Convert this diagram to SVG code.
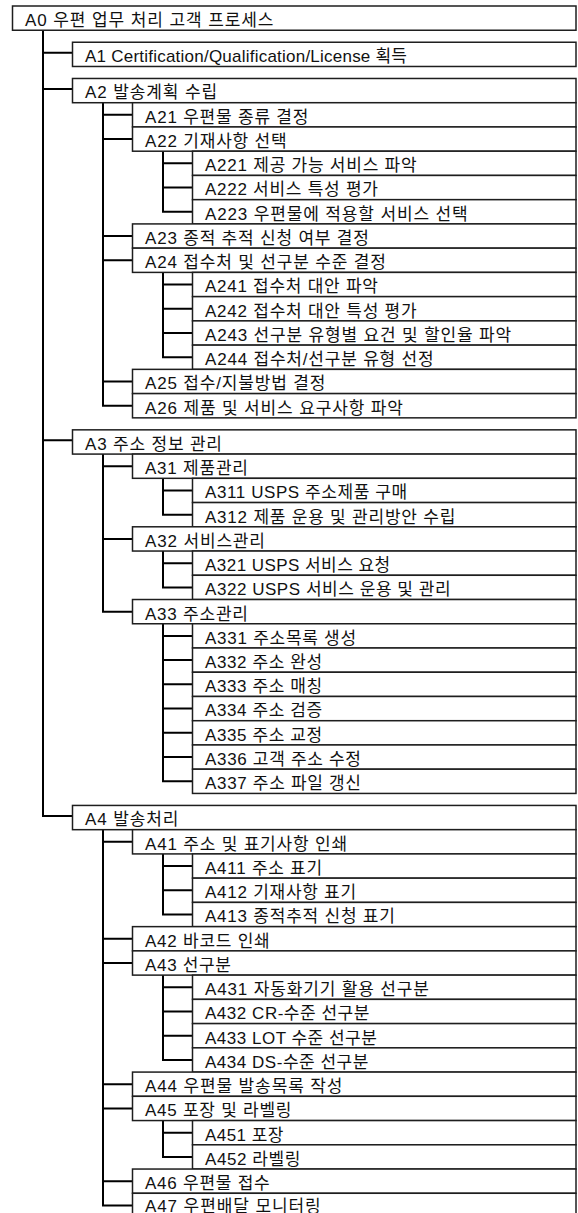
<svg xmlns="http://www.w3.org/2000/svg" width="578" height="1213" viewBox="0 0 578 1213">
<style>
.box{fill:#fff;stroke:#1e1e1e;stroke-width:1.5}
.lbl{font-family:"Liberation Sans","Noto Sans CJK KR",sans-serif;font-size:17px;fill:#111}
.conn{fill:none;stroke:#000;stroke-width:2}
</style>
<rect width="578" height="1213" fill="#fff"/>
<g id="connectors" class="conn">
<path d="M43 30.24V815.94H72.5M43 52.74H72.5M43 88.98H72.5M43 440.34H72.5"/>
<path d="M103 102.72V405.72H132.5M103 114.84H132.5M103 139.08H132.5M103 236.04H132.5M103 260.28H132.5M103 381.48H132.5"/>
<path d="M163 151.2V211.8H192.5M163 163.32H192.5M163 187.56H192.5"/>
<path d="M163 272.4V357.24H192.5M163 284.52H192.5M163 308.76H192.5M163 333H192.5"/>
<path d="M103 454.08V611.64H132.5M103 466.2H132.5M103 538.92H132.5"/>
<path d="M163 478.32V514.68H192.5M163 490.44H192.5"/>
<path d="M163 551.04V587.4H192.5M163 563.16H192.5"/>
<path d="M163 623.76V781.32H192.5M163 635.88H192.5M163 660.12H192.5M163 684.36H192.5M163 708.6H192.5M163 732.84H192.5M163 757.08H192.5"/>
<path d="M103 829.68V1205.4H132.5M103 841.8H132.5M103 938.76H132.5M103 963H132.5M103 1084.2H132.5M103 1108.44H132.5M103 1181.16H132.5"/>
<path d="M163 853.92V914.52H192.5M163 866.04H192.5M163 890.28H192.5"/>
<path d="M163 975.12V1059.96H192.5M163 987.24H192.5M163 1011.48H192.5M163 1035.72H192.5"/>
<path d="M163 1120.56V1156.92H192.5M163 1132.68H192.5"/>
</g>
<g id="A0"><rect class="box" x="12.5" y="6" width="563.5" height="24.24"/><text class="lbl" x="25" y="26" textLength="248.4">A0 우편 업무 처리 고객 프로세스</text></g>
<g id="A1"><rect class="box" x="72.5" y="42.24" width="503.5" height="24.24"/><text class="lbl" x="85" y="62.24" textLength="322">A1 Certification/Qualification/License 획득</text></g>
<g id="A2"><rect class="box" x="72.5" y="78.48" width="503.5" height="24.24"/><text class="lbl" x="85" y="98.48" textLength="132.2">A2 발송계획 수립</text></g>
<g id="A21"><rect class="box" x="132.5" y="102.72" width="443.5" height="24.24"/><text class="lbl" x="145" y="122.72" textLength="163.4">A21 우편물 종류 결정</text></g>
<g id="A22"><rect class="box" x="132.5" y="126.96" width="443.5" height="24.24"/><text class="lbl" x="145" y="146.96" textLength="141.7">A22 기재사항 선택</text></g>
<g id="A221"><rect class="box" x="192.5" y="151.2" width="383.5" height="24.24"/><text class="lbl" x="205" y="171.2" textLength="211.6">A221 제공 가능 서비스 파악</text></g>
<g id="A222"><rect class="box" x="192.5" y="175.44" width="383.5" height="24.24"/><text class="lbl" x="205" y="195.44" textLength="172.9">A222 서비스 특성 평가</text></g>
<g id="A223"><rect class="box" x="192.5" y="199.68" width="383.5" height="24.24"/><text class="lbl" x="205" y="219.68" textLength="262.6">A223 우편물에 적용할 서비스 선택</text></g>
<g id="A23"><rect class="box" x="132.5" y="223.92" width="443.5" height="24.24"/><text class="lbl" x="145" y="243.92" textLength="223.9">A23 종적 추적 신청 여부 결정</text></g>
<g id="A24"><rect class="box" x="132.5" y="248.16" width="443.5" height="24.24"/><text class="lbl" x="145" y="268.16" textLength="240.9">A24 접수처 및 선구분 수준 결정</text></g>
<g id="A241"><rect class="box" x="192.5" y="272.4" width="383.5" height="24.24"/><text class="lbl" x="205" y="292.4" textLength="172.9">A241 접수처 대안 파악</text></g>
<g id="A242"><rect class="box" x="192.5" y="296.64" width="383.5" height="24.24"/><text class="lbl" x="205" y="316.64" textLength="211.6">A242 접수처 대안 특성 평가</text></g>
<g id="A243"><rect class="box" x="192.5" y="320.88" width="383.5" height="24.24"/><text class="lbl" x="205" y="340.88" textLength="306.1">A243 선구분 유형별 요건 및 할인율 파악</text></g>
<g id="A244"><rect class="box" x="192.5" y="345.12" width="383.5" height="24.24"/><text class="lbl" x="205" y="365.12" textLength="228.6">A244 접수처/선구분 유형 선정</text></g>
<g id="A25"><rect class="box" x="132.5" y="369.36" width="443.5" height="24.24"/><text class="lbl" x="145" y="389.36" textLength="180.4">A25 접수/지불방법 결정</text></g>
<g id="A26"><rect class="box" x="132.5" y="393.6" width="443.5" height="24.24"/><text class="lbl" x="145" y="413.6" textLength="257.9">A26 제품 및 서비스 요구사항 파악</text></g>
<g id="A3"><rect class="box" x="72.5" y="429.84" width="503.5" height="24.24"/><text class="lbl" x="85" y="449.84" textLength="137">A3 주소 정보 관리</text></g>
<g id="A31"><rect class="box" x="132.5" y="454.08" width="443.5" height="24.24"/><text class="lbl" x="145" y="474.08" textLength="103">A31 제품관리</text></g>
<g id="A311"><rect class="box" x="192.5" y="478.32" width="383.5" height="24.24"/><text class="lbl" x="205" y="498.32" textLength="202.2">A311 USPS 주소제품 구매</text></g>
<g id="A312"><rect class="box" x="192.5" y="502.56" width="383.5" height="24.24"/><text class="lbl" x="205" y="522.56" textLength="250.3">A312 제품 운용 및 관리방안 수립</text></g>
<g id="A32"><rect class="box" x="132.5" y="526.8" width="443.5" height="24.24"/><text class="lbl" x="145" y="546.8" textLength="120">A32 서비스관리</text></g>
<g id="A321"><rect class="box" x="192.5" y="551.04" width="383.5" height="24.24"/><text class="lbl" x="205" y="571.04" textLength="185.2">A321 USPS 서비스 요청</text></g>
<g id="A322"><rect class="box" x="192.5" y="575.28" width="383.5" height="24.24"/><text class="lbl" x="205" y="595.28" textLength="245.6">A322 USPS 서비스 운용 및 관리</text></g>
<g id="A33"><rect class="box" x="132.5" y="599.52" width="443.5" height="24.24"/><text class="lbl" x="145" y="619.52" textLength="103">A33 주소관리</text></g>
<g id="A331"><rect class="box" x="192.5" y="623.76" width="383.5" height="24.24"/><text class="lbl" x="205" y="643.76" textLength="151.1">A331 주소목록 생성</text></g>
<g id="A332"><rect class="box" x="192.5" y="648" width="383.5" height="24.24"/><text class="lbl" x="205" y="668" textLength="117.1">A332 주소 완성</text></g>
<g id="A333"><rect class="box" x="192.5" y="672.24" width="383.5" height="24.24"/><text class="lbl" x="205" y="692.24" textLength="117.1">A333 주소 매칭</text></g>
<g id="A334"><rect class="box" x="192.5" y="696.48" width="383.5" height="24.24"/><text class="lbl" x="205" y="716.48" textLength="117.1">A334 주소 검증</text></g>
<g id="A335"><rect class="box" x="192.5" y="720.72" width="383.5" height="24.24"/><text class="lbl" x="205" y="740.72" textLength="117.1">A335 주소 교정</text></g>
<g id="A336"><rect class="box" x="192.5" y="744.96" width="383.5" height="24.24"/><text class="lbl" x="205" y="764.96" textLength="155.9">A336 고객 주소 수정</text></g>
<g id="A337"><rect class="box" x="192.5" y="769.2" width="383.5" height="24.24"/><text class="lbl" x="205" y="789.2" textLength="155.9">A337 주소 파일 갱신</text></g>
<g id="A4"><rect class="box" x="72.5" y="805.44" width="503.5" height="24.24"/><text class="lbl" x="85" y="825.44" textLength="93.5">A4 발송처리</text></g>
<g id="A41"><rect class="box" x="132.5" y="829.68" width="443.5" height="24.24"/><text class="lbl" x="145" y="849.68" textLength="202.1">A41 주소 및 표기사항 인쇄</text></g>
<g id="A411"><rect class="box" x="192.5" y="853.92" width="383.5" height="24.24"/><text class="lbl" x="205" y="873.92" textLength="117.1">A411 주소 표기</text></g>
<g id="A412"><rect class="box" x="192.5" y="878.16" width="383.5" height="24.24"/><text class="lbl" x="205" y="898.16" textLength="151.1">A412 기재사항 표기</text></g>
<g id="A413"><rect class="box" x="192.5" y="902.4" width="383.5" height="24.24"/><text class="lbl" x="205" y="922.4" textLength="189.9">A413 종적추적 신청 표기</text></g>
<g id="A42"><rect class="box" x="132.5" y="926.64" width="443.5" height="24.24"/><text class="lbl" x="145" y="946.64" textLength="124.7">A42 바코드 인쇄</text></g>
<g id="A43"><rect class="box" x="132.5" y="950.88" width="443.5" height="24.24"/><text class="lbl" x="145" y="970.88" textLength="86">A43 선구분</text></g>
<g id="A431"><rect class="box" x="192.5" y="975.12" width="383.5" height="24.24"/><text class="lbl" x="205" y="995.12" textLength="223.9">A431 자동화기기 활용 선구분</text></g>
<g id="A432"><rect class="box" x="192.5" y="999.36" width="383.5" height="24.24"/><text class="lbl" x="205" y="1019.36" textLength="164.4">A432 CR-수준 선구분</text></g>
<g id="A433"><rect class="box" x="192.5" y="1023.6" width="383.5" height="24.24"/><text class="lbl" x="205" y="1043.6" textLength="171.9">A433 LOT 수준 선구분</text></g>
<g id="A434"><rect class="box" x="192.5" y="1047.84" width="383.5" height="24.24"/><text class="lbl" x="205" y="1067.84" textLength="163.4">A434 DS-수준 선구분</text></g>
<g id="A44"><rect class="box" x="132.5" y="1072.08" width="443.5" height="24.24"/><text class="lbl" x="145" y="1092.08" textLength="197.4">A44 우편물 발송목록 작성</text></g>
<g id="A45"><rect class="box" x="132.5" y="1096.32" width="443.5" height="24.24"/><text class="lbl" x="145" y="1116.32" textLength="146.4">A45 포장 및 라벨링</text></g>
<g id="A451"><rect class="box" x="192.5" y="1120.56" width="383.5" height="24.24"/><text class="lbl" x="205" y="1140.56" textLength="78.4">A451 포장</text></g>
<g id="A452"><rect class="box" x="192.5" y="1144.8" width="383.5" height="24.24"/><text class="lbl" x="205" y="1164.8" textLength="95.4">A452 라벨링</text></g>
<g id="A46"><rect class="box" x="132.5" y="1169.04" width="443.5" height="24.24"/><text class="lbl" x="145" y="1189.04" textLength="124.7">A46 우편물 접수</text></g>
<g id="A47"><rect class="box" x="132.5" y="1193.28" width="443.5" height="24.24"/><text class="lbl" x="145" y="1212" textLength="175.7">A47 우편배달 모니터링</text></g>
</svg>
